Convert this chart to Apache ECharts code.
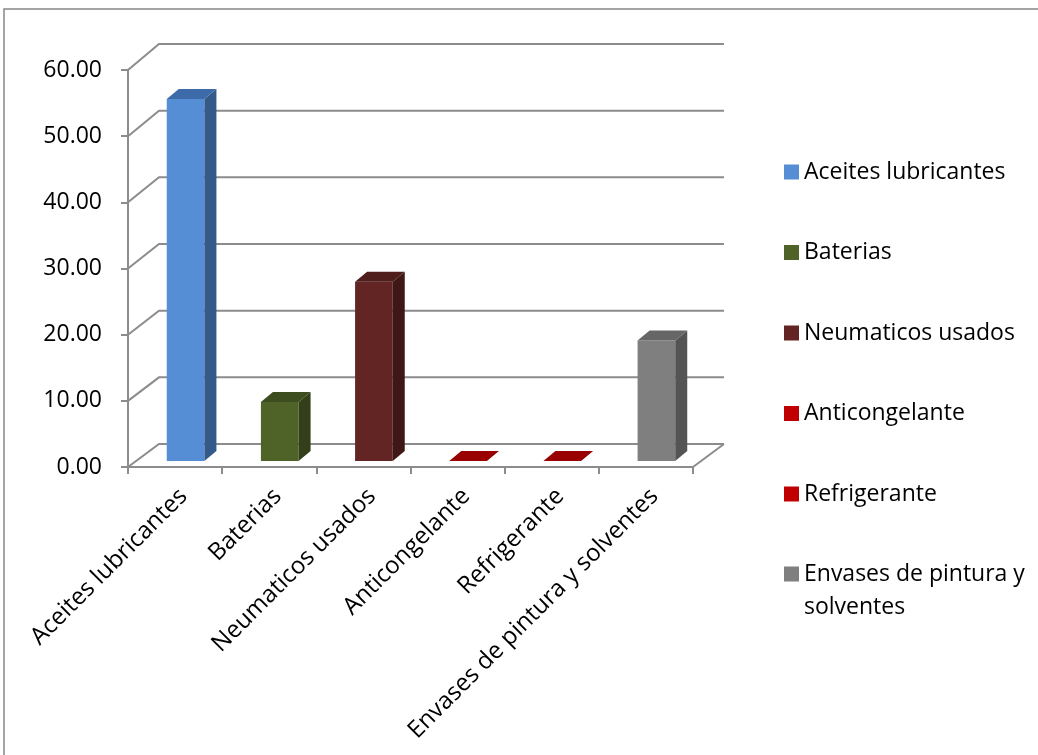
<!DOCTYPE html>
<html>
<head>
<meta charset="utf-8">
<script src="https://cdn.jsdelivr.net/npm/echarts@6/dist/echarts.min.js"></script>
<style>
  html, body { margin: 0; padding: 0; background: #ffffff; }
  #chart { width: 1038px; height: 755px; }
</style>
</head>
<body>
<div id="chart"></div>
<script>
// Residue categories and their quantities
const categories = [
  'Aceites lubricantes',
  'Baterias',
  'Neumaticos usados',
  'Anticongelante',
  'Refrigerante',
  'Envases de pintura y solventes'
];
const values = [54.7, 8.9, 27.1, 0, 0, 18.2];

// Value axis levels (also the levels of the back-wall grid)
const yLevels = [0, 10, 20, 30, 40, 50, 60];

// Face colours for each column: front, side, top
const frontColors = ['#558ED5', '#4F6228', '#632523', '#C00000', '#C00000', '#7F7F7F'];
const sideColors  = ['#345A8A', '#323F19', '#3F1716', '#7A0000', '#7A0000', '#545454'];
const topColors   = ['#3D6BAA', '#3E4D1F', '#4E1D1C', '#990000', '#990000', '#666666'];

const FONT = 'Open Sans';
const GRID_COLOR = '#8C8C8C';

// Depth of the chart box (wall) and of each column
const WALL_DX = 31;
const BAR_DX = 12, BAR_DY = -10;
const BAR_SHIFT_X = 10.5, BAR_SHIFT_Y = -6;

function wallDy(level) {
  return -(23 + 3 * level / yLevels[yLevels.length - 1]);
}

// Back wall gridlines plus the left-wall diagonals, and the floor's right edge
function renderWall(params, api) {
  const cs = params.coordSys;
  const level = api.value(1);
  const y = api.coord([0, level])[1];
  const x0 = cs.x, x1 = cs.x + cs.width;
  const dy = wallDy(level);
  const children = [{
    type: 'polyline',
    shape: { points: [[x0, y], [x0 + WALL_DX, y + dy], [x1 + WALL_DX, y + dy]] },
    style: { stroke: GRID_COLOR, lineWidth: 2, fill: null }
  }];
  if (level === yLevels[0]) {
    children.push({
      type: 'line',
      shape: { x1: x1, y1: y, x2: x1 + WALL_DX, y2: y + dy },
      style: { stroke: GRID_COLOR, lineWidth: 2 }
    });
  }
  return { type: 'group', children: children };
}

// A 3D-looking column: front face, right side and top cap
function makeBarRenderer(idx) {
  return function (params, api) {
    const cat = api.value(0);
    const val = api.value(1);
    const base = api.coord([cat, 0]);
    const top = api.coord([cat, val]);
    const band = api.size([1, 0])[0];
    const w = band * 0.4;
    const left = base[0] + BAR_SHIFT_X - w / 2;
    const right = left + w;
    const yb = base[1] + BAR_SHIFT_Y;
    const yt = top[1] + BAR_SHIFT_Y;
    const children = [];
    if (yb - yt > 0.5) {
      children.push({
        type: 'rect',
        shape: { x: left, y: yt, width: w, height: yb - yt },
        style: { fill: frontColors[idx] }
      });
      children.push({
        type: 'polygon',
        shape: { points: [[right, yt], [right + BAR_DX, yt + BAR_DY], [right + BAR_DX, yb + BAR_DY], [right, yb]] },
        style: { fill: sideColors[idx] }
      });
    }
    children.push({
      type: 'polygon',
      shape: { points: [[left, yt], [left + BAR_DX, yt + BAR_DY], [right + BAR_DX, yt + BAR_DY], [right, yt]] },
      style: { fill: topColors[idx] }
    });
    return { type: 'group', children: children };
  };
}

const barSeries = categories.map(function (name, i) {
  return {
    type: 'custom',
    name: name,
    z: 5,
    renderItem: makeBarRenderer(i),
    itemStyle: { color: frontColors[i] },
    encode: { x: 0, y: 1 },
    data: [[name, values[i]]]
  };
});

const legendText = {
  fontFamily: FONT,
  fontSize: 23,
  color: '#000000',
  lineHeight: 33
};

const chart = echarts.init(document.getElementById('chart'), null, { renderer: 'canvas' });

chart.setOption({
  backgroundColor: '#ffffff',
  animation: false,
  graphic: [{
    type: 'rect',
    shape: { x: 4, y: 9, width: 1100, height: 800 },
    style: { fill: 'none', stroke: '#868686', lineWidth: 1.5 },
    silent: true,
    z: -10
  }],
  grid: { left: 128, top: 70, width: 565, height: 397, containLabel: false },
  legend: [{
    orient: 'vertical',
    left: 779,
    top: 150.5,
    itemWidth: 15,
    itemHeight: 15,
    itemGap: 47.5,
    icon: 'rect',
    selectedMode: false,
    textStyle: legendText,
    data: categories.slice(0, 5)
  }, {
    // blank first line keeps the marker beside the first line of the wrapped name
    orient: 'vertical',
    left: 779,
    top: 519.5,
    itemWidth: 15,
    itemHeight: 15,
    icon: 'rect',
    selectedMode: false,
    textStyle: legendText,
    formatter: function () { return ' \nEnvases de pintura y\nsolventes'; },
    data: categories.slice(5)
  }],
  xAxis: {
    type: 'category',
    data: categories,
    boundaryGap: true,
    axisLine: { show: true, lineStyle: { color: GRID_COLOR, width: 2 } },
    axisTick: { show: true, length: 7, lineStyle: { color: GRID_COLOR, width: 2 } },
    axisLabel: {
      interval: 0,
      rotate: 45,
      margin: 17,
      align: 'right',
      verticalAlign: 'top',
      fontFamily: FONT,
      fontSize: 24,
      color: '#000000'
    },
    splitLine: { show: false }
  },
  yAxis: {
    type: 'value',
    min: 0,
    max: 60,
    interval: 10,
    axisLine: { show: true, lineStyle: { color: GRID_COLOR, width: 2 } },
    axisTick: { show: true, length: 7, lineStyle: { color: GRID_COLOR, width: 2 } },
    axisLabel: {
      margin: 26,
      fontFamily: FONT,
      fontSize: 23,
      color: '#000000',
      formatter: function (v) { return v.toFixed(2); }
    },
    splitLine: { show: false }
  },
  series: [{
    type: 'custom',
    name: 'wall',
    z: 1,
    silent: true,
    renderItem: renderWall,
    encode: { x: 0, y: 1 },
    data: yLevels.map(function (v) { return [categories[0], v]; })
  }].concat(barSeries)
});
</script>
</body>
</html>
